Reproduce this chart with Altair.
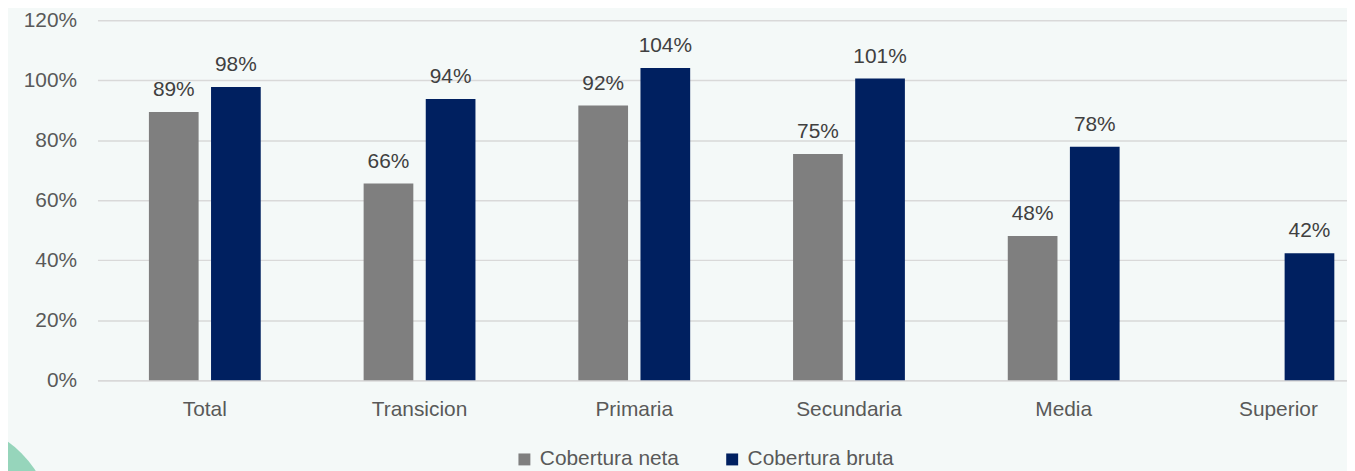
import altair as alt
import pandas as pd

categories = ["Total", "Transicion", "Primaria", "Secundaria", "Media", "Superior"]
series = ["Cobertura neta", "Cobertura bruta"]
neta = [0.894, 0.656, 0.916, 0.754, 0.481, None]
bruta = [0.978, 0.938, 1.041, 1.006, 0.778, 0.423]
colors = ["#7f7f7f", "#002060"]
y_ticks = [0, 0.2, 0.4, 0.6, 0.8, 1.0, 1.2]

rows = []
for c, n, b in zip(categories, neta, bruta):
    if n is not None:
        rows.append({"cat": c, "serie": series[0], "val": n})
    if b is not None:
        rows.append({"cat": c, "serie": series[1], "val": b})
df = pd.DataFrame(rows)

font = "Liberation Sans"
fs = 21

x = alt.X("cat:N", sort=categories, title=None,
          scale=alt.Scale(range=[0, 1296], paddingInner=0, paddingOuter=0),
          axis=alt.Axis(labelAngle=0, labelFontSize=fs, labelColor="#595959", labelFont=font,
                        ticks=False, domainColor="#d9d9d9", domainWidth=1.5, labelPadding=19))
xo = alt.XOffset("serie:N", sort=series,
                 scale=alt.Scale(domain=series, paddingInner=0.2, paddingOuter=0.828))
y = alt.Y("val:Q", title=None,
          scale=alt.Scale(domain=[0, 1.2], nice=False),
          axis=alt.Axis(values=y_ticks, format=".0%", labelFontSize=fs, labelColor="#595959",
                        labelFont=font, ticks=False, domain=False, gridColor="#d9d9d9",
                        gridWidth=1.5, labelPadding=21))

color = alt.Color("serie:N", sort=series,
                  scale=alt.Scale(domain=series, range=colors),
                  legend=alt.Legend(title=None, orient="none", direction="horizontal",
                                    legendX=419, legendY=431, symbolType="square",
                                    symbolSize=144, labelFontSize=fs, labelColor="#595959",
                                    labelFont=font, labelOffset=5, columnPadding=42,
                                    symbolStrokeWidth=0))

base = alt.Chart(df)
bars = base.mark_bar().encode(x=x, xOffset=xo, y=y, color=color)
labels = base.mark_text(baseline="bottom", dy=-12, fontSize=fs, font=font, color="#404040").encode(
    x=x, xOffset=xo, y=y, text=alt.Text("val:Q", format=".0%"))

deco = alt.Chart(pd.DataFrame({"d": [0]})).mark_circle(
    size=43264, color="#96d5bb", opacity=1).encode(x=alt.value(-150), y=alt.value(509))

chart = alt.layer(deco, bars, labels).properties(
    width=1257, height=362,
    autosize=alt.AutoSizeParams(type="none"),
    padding={"left": 90, "top": 11, "right": 0, "bottom": 90},
    background="#f4f9f8",
).configure_view(stroke=None)

chart.save("out.html", embed_options={"renderer": "svg", "actions": False})
